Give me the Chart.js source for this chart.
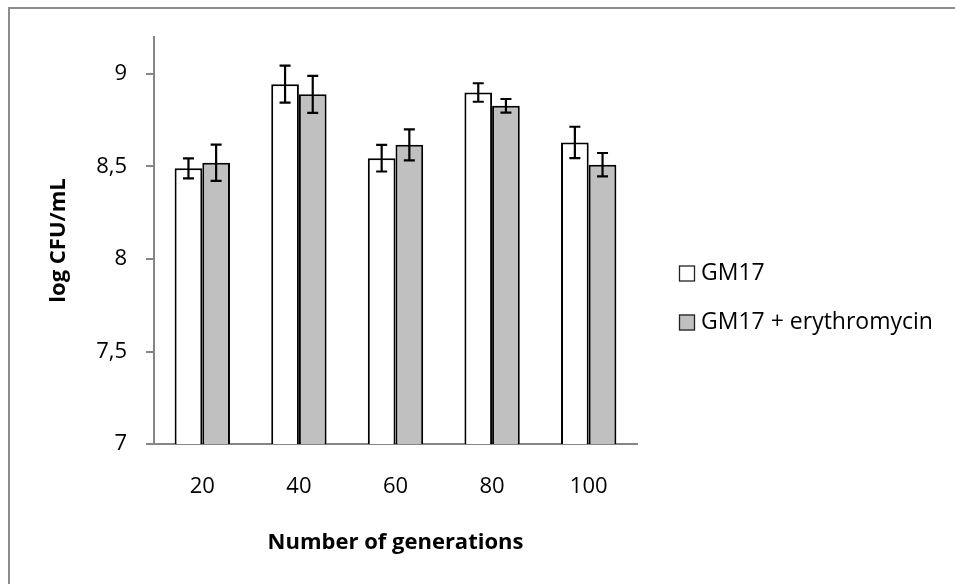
<!DOCTYPE html>
<html>
<head>
<meta charset="utf-8">
<script src="https://cdn.jsdelivr.net/npm/chart.js@4"></script>
<style>
  html, body { margin: 0; padding: 0; background: #fff; }
  #wrap { position: relative; width: 955px; height: 584px; overflow: hidden; }
  #frame { position: absolute; left: 8px; top: 7px; width: 1000px; height: 700px;
           border-top: 2px solid #8c8c8c; border-left: 2px solid #8c8c8c; pointer-events: none; }
  canvas { position: absolute; left: 0; top: 0; }
</style>
</head>
<body>
<div id="wrap">
  <canvas id="c" width="955" height="584"></canvas>
  <div id="frame"></div>
</div>
<script>
const categories = ['20', '40', '60', '80', '100'];
const seriesNames = ['GM17', 'GM17 + erythromycin'];
const gm17 = [8.49, 8.945, 8.545, 8.90, 8.63];
const gm17Err = [0.054, 0.10, 0.072, 0.05, 0.085];
const ery = [8.52, 8.89, 8.617, 8.828, 8.51];
const eryErr = [0.098, 0.10, 0.084, 0.037, 0.063];
const yTickValues = [7, 7.5, 8, 8.5, 9];
const yTickLabels = ['7', '7,5', '8', '8,5', '9'];
const yMin = 7, yMax = 9.2;

const FONT = '"Open Sans", Lato, sans-serif';

const errorBars = {
  id: 'errorBars',
  afterDatasetsDraw(chart) {
    const ctx = chart.ctx;
    const y = chart.scales.y;
    chart.data.datasets.forEach((ds, di) => {
      const meta = chart.getDatasetMeta(di);
      meta.data.forEach((el, i) => {
        const v = ds.data[i], e = ds.errors[i];
        const yt = y.getPixelForValue(v + e);
        const yb = y.getPixelForValue(v - e);
        ctx.save();
        ctx.strokeStyle = '#000';
        ctx.lineWidth = 2.2;
        ctx.beginPath();
        ctx.moveTo(el.x, yt); ctx.lineTo(el.x, yb);
        ctx.moveTo(el.x - 5.5, yt); ctx.lineTo(el.x + 5.5, yt);
        ctx.moveTo(el.x - 5.5, yb); ctx.lineTo(el.x + 5.5, yb);
        ctx.stroke();
        ctx.restore();
      });
    });
  }
};

const customLegend = {
  id: 'customLegend',
  afterDraw(chart) {
    const ctx = chart.ctx;
    const area = chart.chartArea;
    const x0 = area.right + 42;
    const yc = (area.top + area.bottom) / 2;
    const rows = [yc + 33, yc + 82];
    chart.data.datasets.forEach((ds, i) => {
      const cy = rows[i];
      ctx.save();
      ctx.fillStyle = ds.backgroundColor;
      ctx.fillRect(x0, cy - 8, 16, 16);
      ctx.strokeStyle = '#222';
      ctx.lineWidth = 1.3;
      ctx.strokeRect(x0 + 0.5, cy - 7.5, 15, 15);
      ctx.fillStyle = '#000';
      ctx.font = '23px ' + FONT;
      ctx.textBaseline = 'middle';
      ctx.textAlign = 'left';
      ctx.fillText(ds.label, x0 + 22, cy);
      ctx.restore();
    });
  }
};

new Chart(document.getElementById('c'), {
  type: 'bar',
  data: {
    labels: categories,
    datasets: [
      { label: seriesNames[0], data: gm17, errors: gm17Err, backgroundColor: '#ffffff',
        borderColor: '#000', borderWidth: 2, categoryPercentage: 0.573, barPercentage: 1 },
      { label: seriesNames[1], data: ery, errors: eryErr, backgroundColor: '#c0c0c0',
        borderColor: '#000', borderWidth: 2, categoryPercentage: 0.573, barPercentage: 1 }
    ]
  },
  options: {
    responsive: false,
    animation: false,
    devicePixelRatio: 1,
    layout: { padding: { left: 0, top: 37, right: 318, bottom: 0 } },
    plugins: { legend: { display: false }, tooltip: { enabled: false } },
    scales: {
      x: {
        afterFit(s) { s.height = 140; },
        grid: { display: false, drawTicks: false },
        border: { display: true, color: '#868686', width: 2 },
        ticks: { color: '#000', font: { family: FONT, size: 22 }, padding: 30 },
        title: { display: true, text: 'Number of generations', color: '#000',
                 font: { family: FONT, size: 22, weight: 'bold' }, padding: { top: 0, bottom: 28 } }
      },
      y: {
        min: yMin, max: yMax,
        afterFit(s) { s.width = 154; },
        afterBuildTicks(s) { s.ticks = yTickValues.map(v => ({ value: v })); },
        grid: { drawOnChartArea: false, drawTicks: true, tickLength: 8, color: '#868686', lineWidth: 2 },
        border: { display: true, color: '#868686', width: 2 },
        ticks: {
          color: '#000', font: { family: FONT, size: 22 }, padding: 19,
          callback(v) { const i = yTickValues.indexOf(v); return i >= 0 ? yTickLabels[i] : ''; }
        },
        title: { display: true, text: 'log CFU/mL', color: '#000',
                 font: { family: FONT, size: 22, weight: 'bold' }, padding: { top: 46, bottom: 0 } }
      }
    }
  },
  plugins: [errorBars, customLegend]
});
</script>
</body>
</html>
